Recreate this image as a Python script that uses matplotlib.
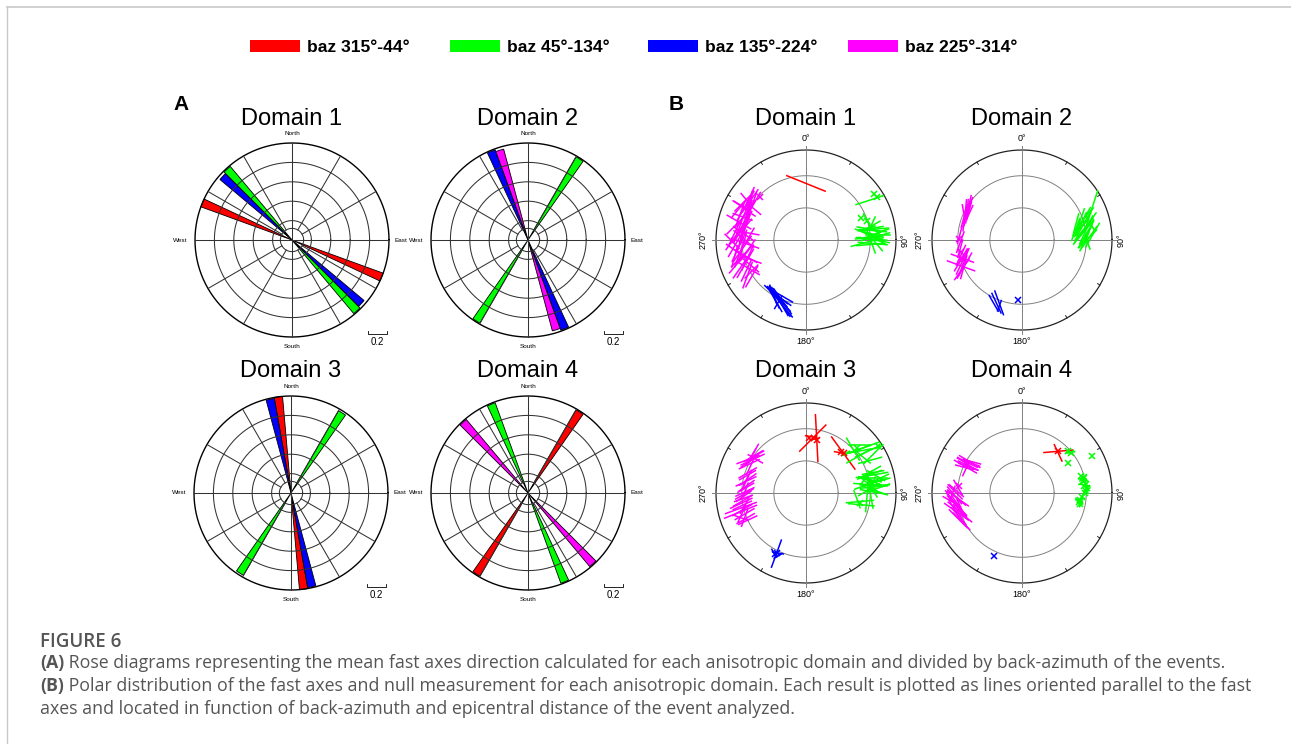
import numpy as np
import matplotlib.pyplot as plt
from matplotlib.patches import Wedge, Rectangle

W, H = 1291, 744

group_labels = ['baz 315°-44°', 'baz 45°-134°', 'baz 135°-224°', 'baz 225°-314°']
group_colors = ['#ff0000', '#00ff00', '#0000ff', '#ff00ff']
titles = ['Domain 1', 'Domain 2', 'Domain 3', 'Domain 4']

# ---- A: rose diagrams (5 deg bins, start azimuth), normalised length, baz group
rose1_bin = [110, 130, 135]
rose1_len = [1.0, 0.97, 0.99]
rose1_grp = [0, 2, 1]
rose2_bin = [30, 155, 160]
rose2_len = [0.99, 0.99, 0.97]
rose2_grp = [1, 2, 3]
rose3_bin = [170, 165, 30]
rose3_len = [1.0, 0.99, 0.98]
rose3_grp = [0, 2, 1]
rose4_bin = [30, 155, 135]
rose4_len = [0.99, 0.99, 0.99]
rose4_grp = [0, 1, 3]

# ---- B: splits, rows of (back-azimuth, epicentral distance, fast axis, delay time s)
d1_splits = [
    (0, 88, 112, 2.3),
    (58, 117, 72, 1.6), (80, 102, 80, 1.4), (82, 105, 95, 1.5), (84, 100, 105, 1.2),
    (85, 108, 70, 1.6), (87, 103, 115, 1.3), (88, 98, 85, 1.5), (90, 106, 100, 1.7),
    (83, 110, 130, 1.0), (78, 104, 60, 1.1), (86, 112, 90, 1.3), (91, 101, 160, 1.4),
    (79, 97, 75, 0.9), (89, 109, 120, 1.2), (93, 104, 95, 1.6), (76, 106, 25, 0.8),
    (72, 100, 150, 0.8), (92, 95, 75, 1.8), (81, 107, 85, 1.6), (84, 96, 110, 1.4),
    (87, 110, 75, 1.5), (89, 102, 95, 1.7), (92, 108, 140, 1.2), (80, 99, 100, 1.3),
    (86, 105, 65, 1.4), (94, 100, 85, 1.5),
    (296, 104, 25, 1.6), (300, 108, 30, 1.8), (303, 100, 20, 1.4), (298, 112, 120, 1.2),
    (305, 106, 35, 1.5), (293, 98, 15, 1.7), (301, 95, 130, 1.0), (307, 110, 25, 1.2),
    (295, 115, 40, 1.3), (290, 105, 110, 1.1), (299, 101, 10, 1.9), (304, 112, 140, 0.9),
    (291, 110, 20, 1.5), (294, 102, 35, 1.7), (297, 107, 125, 1.4), (302, 104, 15, 1.6),
    (306, 99, 30, 1.3), (300, 114, 45, 1.2), (288, 100, 25, 1.8), (285, 108, 120, 1.5),
    (283, 100, 30, 1.7), (279, 106, 20, 1.5), (276, 98, 125, 1.3), (273, 110, 35, 1.8),
    (270, 102, 15, 1.4), (267, 95, 110, 1.6), (281, 113, 45, 1.2), (274, 88, 30, 1.0),
    (269, 115, 135, 1.1), (265, 104, 25, 1.9), (277, 92, 100, 1.3), (282, 96, 20, 1.6),
    (278, 101, 40, 1.7), (275, 112, 25, 1.5), (271, 97, 130, 1.4), (268, 108, 30, 1.8),
    (264, 99, 15, 1.6), (261, 110, 125, 1.3),
    (262, 100, 35, 1.7), (258, 106, 20, 1.5), (255, 97, 120, 1.4), (252, 110, 40, 1.6),
    (249, 101, 30, 1.8), (246, 95, 130, 1.2), (243, 104, 25, 1.3), (240, 98, 45, 1.0),
    (257, 114, 15, 1.2), (250, 90, 110, 1.1), (260, 92, 35, 1.4), (236, 102, 30, 1.3),
    (256, 102, 45, 1.7), (253, 95, 25, 1.5), (248, 108, 35, 1.6), (244, 100, 120, 1.4),
    (239, 106, 20, 1.5),
    (205, 100, 140, 1.6), (203, 104, 150, 1.8), (207, 97, 130, 1.4), (200, 108, 145, 1.5),
    (209, 102, 155, 1.3), (202, 95, 120, 1.2), (198, 110, 140, 1.4), (211, 99, 160, 1.1),
    (204, 106, 30, 0.8), (206, 101, 135, 2.0), (201, 102, 145, 1.7), (206, 98, 140, 1.5),
    (208, 104, 150, 1.6), (203, 99, 125, 1.3),
]
d1_nulls = [(313, 97), (56, 127), (59, 129), (68, 92), (73, 99)]

d2_splits = [
    (67, 117, 18, 2.3), (72, 100, 30, 1.6), (75, 95, 25, 1.4), (78, 103, 35, 1.8),
    (80, 98, 40, 1.5), (82, 106, 20, 1.3), (85, 100, 30, 1.7), (88, 104, 45, 1.2),
    (73, 88, 15, 1.1), (77, 110, 150, 0.9), (84, 92, 35, 1.4), (90, 98, 25, 1.0),
    (70, 105, 40, 1.2), (86, 110, 30, 1.5), (79, 85, 20, 1.3), (92, 102, 160, 0.8),
    (74, 102, 30, 1.8), (76, 97, 35, 1.6), (81, 101, 25, 1.7), (83, 96, 40, 1.5),
    (87, 99, 30, 1.4), (89, 103, 35, 1.6), (71, 96, 20, 1.3), (78, 93, 45, 1.2),
    (293, 96, 10, 1.2), (296, 98, 5, 1.4), (299, 94, 15, 1.0), (302, 97, 20, 1.1),
    (295, 100, 170, 0.9), (290, 95, 8, 1.3), (298, 92, 25, 0.8), (304, 99, 12, 1.0),
    (291, 97, 15, 1.1), (297, 95, 10, 1.2), (300, 98, 5, 1.0),
    (275, 97, 15, 1.0), (268, 96, 20, 1.2), (262, 97, 15, 1.0),
    (256, 98, 25, 1.2), (252, 100, 30, 1.4), (249, 97, 20, 1.5), (247, 103, 110, 1.6),
    (254, 95, 35, 1.1), (245, 100, 15, 1.3), (250, 99, 25, 1.5), (253, 97, 110, 1.3),
    (246, 98, 30, 1.6), (244, 104, 35, 1.4),
    (202, 106, 155, 1.2), (200, 104, 160, 1.4), (204, 108, 150, 1.0), (199, 108, 20, 0.6),
]
d2_nulls = [(184, 93), (271, 98), (259, 96), (254, 99)]

d3_splits = [
    (11, 87, 177, 2.6), (7, 86, 45, 2.05), (5, 88, 100, 0.6), (9, 85, 80, 0.5),
    (43, 85, 144, 2.2), (40, 82, 100, 0.6), (45, 87, 60, 0.5),
    (60, 121, 45, 1.5), (50, 104, 70, 1.6), (53, 110, 80, 1.8), (47, 100, 150, 1.4),
    (56, 116, 65, 1.5), (48, 112, 90, 1.2), (58, 105, 130, 1.0), (63, 112, 75, 1.3),
    (52, 115, 70, 1.7), (55, 100, 60, 1.5),
    (72, 105, 60, 1.3), (75, 110, 80, 1.5), (78, 100, 100, 1.4), (80, 106, 120, 1.2),
    (82, 98, 70, 1.6), (84, 112, 90, 1.3), (86, 103, 150, 1.1), (76, 96, 40, 1.0),
    (88, 108, 110, 1.4), (79, 115, 65, 1.2), (90, 100, 170, 1.7), (83, 104, 20, 0.9),
    (74, 103, 70, 1.4), (77, 107, 90, 1.5), (79, 101, 110, 1.3), (81, 110, 75, 1.6),
    (83, 100, 130, 1.2), (85, 106, 85, 1.5), (87, 98, 60, 1.3), (89, 104, 100, 1.4),
    (73, 109, 80, 1.2), (76, 112, 120, 1.1), (82, 95, 95, 1.4), (86, 113, 70, 1.3),
    (99, 85, 85, 1.5), (102, 88, 95, 1.4), (97, 80, 160, 1.0), (94, 95, 5, 1.6),
    (308, 103, 30, 1.0), (305, 100, 60, 1.2), (302, 98, 65, 1.4), (299, 101, 55, 1.1),
    (296, 96, 25, 1.0), (304, 95, 120, 0.9), (300, 104, 70, 1.3), (306, 98, 60, 1.1),
    (303, 102, 30, 1.0), (297, 99, 65, 1.2),
    (289, 96, 60, 1.1), (285, 94, 30, 0.9), (281, 95, 65, 1.2), (277, 93, 55, 1.0),
    (273, 94, 20, 0.8), (269, 96, 60, 1.1), (265, 98, 70, 1.0), (287, 95, 60, 1.0),
    (283, 93, 55, 1.1), (279, 96, 25, 0.9), (275, 94, 60, 1.0), (271, 95, 65, 1.1),
    (267, 97, 55, 1.0), (263, 99, 60, 1.2),
    (261, 102, 65, 1.3), (257, 104, 70, 1.8), (254, 106, 68, 1.9), (251, 101, 60, 1.2),
    (248, 103, 20, 1.0), (245, 100, 65, 1.1), (258, 98, 30, 0.9), (249, 108, 110, 0.8),
    (259, 101, 65, 1.1), (255, 103, 60, 1.2), (252, 105, 25, 1.0), (247, 102, 60, 1.1),
    (206, 105, 20, 1.6), (205, 103, 100, 0.6), (208, 106, 150, 0.5), (204, 107, 60, 0.5),
]
d3_nulls = [(3, 86), (8, 87), (12, 85), (41, 84), (44, 86), (57, 134), (49, 106),
            (81, 104), (100, 86), (206, 104), (207, 106)]

d4_splits = [
    (41, 86, 85, 1.6), (42, 84, 155, 1.0),
    (76, 98, 45, 0.5), (78, 100, 120, 0.4), (80, 96, 60, 0.5), (85, 101, 150, 0.4),
    (88, 99, 30, 0.5), (95, 92, 40, 0.6), (98, 90, 130, 0.5), (100, 93, 20, 0.4),
    (50, 98, 80, 0.5), (77, 97, 90, 0.4), (83, 99, 100, 0.5), (87, 101, 60, 0.4),
    (96, 91, 80, 0.5),
    (300, 96, 110, 1.3), (297, 94, 115, 1.2), (295, 97, 120, 1.4), (302, 92, 105, 1.0),
    (293, 95, 25, 0.8), (298, 99, 125, 1.1), (299, 97, 115, 1.2), (296, 93, 110, 1.1),
    (301, 95, 120, 1.3), (294, 98, 105, 1.0),
    (272, 102, 130, 1.0), (268, 105, 140, 1.2), (265, 100, 125, 1.4), (262, 107, 145, 1.6),
    (259, 103, 135, 1.5), (256, 108, 150, 1.3), (253, 101, 130, 1.7), (250, 105, 140, 1.2),
    (263, 110, 120, 1.1), (257, 98, 155, 1.0), (270, 108, 20, 0.8), (245, 104, 135, 1.3),
    (275, 100, 150, 0.9), (271, 104, 135, 1.1), (266, 102, 130, 1.3), (261, 105, 140, 1.5),
    (258, 100, 145, 1.4), (254, 106, 125, 1.6), (251, 103, 150, 1.3), (248, 107, 135, 1.4),
    (264, 108, 140, 1.0),
]
d4_nulls = [(41, 86), (48, 97), (50.5, 99), (57, 85), (62, 123), (74, 96), (76, 99),
            (79, 97), (82, 100), (84, 97), (86, 102), (88, 100), (90, 98), (94, 93),
            (97, 91), (99, 89), (101, 92), (204, 107), (276, 98)]

caption_a = ' Rose diagrams representing the mean fast axes direction calculated for each anisotropic domain and divided by back-azimuth of the events.'
caption_b = ' Polar distribution of the fast axes and null measurement for each anisotropic domain. Each result is plotted as lines oriented parallel to the fast'
caption_c = 'axes and located in function of back-azimuth and epicentral distance of the event analyzed.'

DIST_MAX = 140.0
DT_SCALE = 28.0  # distance units per second of delay

plt.rcParams['font.family'] = ['Liberation Sans', 'DejaVu Sans']

fig = plt.figure(figsize=(W / 100, H / 100), dpi=100)
bg = fig.add_axes([0, 0, 1, 1])
bg.set_xlim(0, W)
bg.set_ylim(H, 0)
bg.axis('off')


def baz_group(b):
    b = b % 360
    if b >= 315 or b < 45:
        return 0
    if b < 135:
        return 1
    if b < 225:
        return 2
    return 3


def panel(cx, cy, rpx, lim):
    ax = fig.add_axes([(cx - lim * rpx) / W, (H - cy - lim * rpx) / H,
                       2 * lim * rpx / W, 2 * lim * rpx / H])
    ax.set_xlim(-lim, lim)
    ax.set_ylim(-lim, lim)
    ax.set_aspect('equal')
    ax.axis('off')
    return ax


th = np.linspace(0, 2 * np.pi, 361)


def draw_rose(ax, bins, lens, grps):
    for b, L, g in zip(bins, lens, grps):
        for off in (0, 180):
            a0 = b + off
            ax.add_patch(Wedge((0, 0), L, 90 - (a0 + 5), 90 - a0,
                               facecolor=group_colors[g], edgecolor='black',
                               lw=0.6, zorder=2))
    for rr in [0.12, 0.2, 0.4, 0.6, 0.8]:
        ax.plot(rr * np.cos(th), rr * np.sin(th), color='#333333', lw=0.75, zorder=3)
    ax.plot(np.cos(th), np.sin(th), color='black', lw=1.0, zorder=3)
    for a in range(0, 360, 30):
        r0 = 0 if a % 90 == 0 else 0.12
        s, c = np.sin(np.radians(a)), np.cos(np.radians(a))
        ax.plot([r0 * s, s], [r0 * c, c], color='#333333', lw=0.75, zorder=3)
    kw = dict(fontsize=4.6, ha='center', va='center')
    ax.text(0, 1.10, 'North', **kw)
    ax.text(0, -1.10, 'South', **kw)
    ax.text(-1.15, 0, 'West', **kw)
    ax.text(1.12, 0, 'East', **kw)
    # scale bar 0.2
    ax.plot([0.78, 0.78, 0.98, 0.98], [-0.94, -0.97, -0.97, -0.94], color='black', lw=0.6)
    ax.text(0.88, -1.05, '0.2', fontsize=7, ha='center', va='center')


def draw_polar(ax, rows, nulls):
    for d in (50, 100):
        rr = d / DIST_MAX
        ax.plot(rr * np.cos(th), rr * np.sin(th), color='#808080', lw=0.7, zorder=1)
    ax.plot(np.cos(th), np.sin(th), color='#222222', lw=0.9, zorder=1)
    ax.plot([0, 0], [-1.04, 1.04], color='#808080', lw=0.7, zorder=1)
    ax.plot([-1.04, 1.04], [0, 0], color='#808080', lw=0.7, zorder=1)
    for a in range(30, 360, 30):
        if a % 90 == 0:
            continue
        s, c = np.sin(np.radians(a)), np.cos(np.radians(a))
        ax.plot([0.97 * s, s], [0.97 * c, c], color='#222222', lw=0.7, zorder=1)
    for b, d, p, t in rows:
        r = d / DIST_MAX
        x0, y0 = r * np.sin(np.radians(b)), r * np.cos(np.radians(b))
        h = t * DT_SCALE / DIST_MAX / 2
        dx, dy = h * np.sin(np.radians(p)), h * np.cos(np.radians(p))
        ax.plot([x0 - dx, x0 + dx], [y0 - dy, y0 + dy],
                color=group_colors[baz_group(b)], lw=1.1, zorder=2)
    for b, d in nulls:
        r = d / DIST_MAX
        ax.plot(r * np.sin(np.radians(b)), r * np.cos(np.radians(b)), marker='x',
                ms=4.5, mew=1.1, color=group_colors[baz_group(b)], zorder=3)
    kw = dict(fontsize=6.5, ha='center', va='center')
    ax.text(0, 1.13, '0°', **kw)
    ax.text(0, -1.13, '180°', **kw)
    ax.text(-1.14, 0, '270°', rotation=90, **kw)
    ax.text(1.1, 0, '90°', rotation=90, **kw)


rose_centers = [(292, 240), (528, 240), (291, 493), (528, 493)]
polar_centers = [(806, 240), (1022, 240), (806, 493), (1022, 493)]
roses = [(rose1_bin, rose1_len, rose1_grp), (rose2_bin, rose2_len, rose2_grp),
         (rose3_bin, rose3_len, rose3_grp), (rose4_bin, rose4_len, rose4_grp)]
splits = [(d1_splits, d1_nulls), (d2_splits, d2_nulls),
          (d3_splits, d3_nulls), (d4_splits, d4_nulls)]

for i in range(4):
    cx, cy = rose_centers[i]
    ax = panel(cx, cy, 97, 1.3)
    draw_rose(ax, *roses[i])
    bg.text(cx, 125 if i < 2 else 377, titles[i], fontsize=17, ha='center', va='baseline')

    cx, cy = polar_centers[i]
    ax = panel(cx, cy, 90, 1.25)
    draw_polar(ax, *splits[i])
    bg.text(cx, 125 if i < 2 else 377, titles[i], fontsize=17, ha='center', va='baseline')

bg.text(181, 110, 'A', fontsize=15, fontweight='bold', ha='center', va='baseline')
bg.text(676, 110, 'B', fontsize=15, fontweight='bold', ha='center', va='baseline')

# legend
leg_x = [250, 450, 648, 848]
for x, lab, col in zip(leg_x, group_labels, group_colors):
    bg.add_patch(Rectangle((x, 40), 50, 12, facecolor=col, edgecolor='none'))
    bg.text(x + 57, 51.5, lab, fontsize=12.6, fontweight='bold', ha='left', va='baseline')

# frame lines
bg.plot([7, W], [7, 7], color='#c8c8c8', lw=1.2)
bg.plot([7, 7], [7, H], color='#c8c8c8', lw=1.0)

# caption
cap = dict(family=['Open Sans', 'DejaVu Sans'], color='#555555', va='baseline', ha='left')
bg.text(40, 647, 'FIGURE 6', fontsize=13.5, fontweight='semibold', **cap)
fig.canvas.draw()
rend = fig.canvas.get_renderer()
for y, pre, body in [(668, '(A)', caption_a), (691, '(B)', caption_b)]:
    t = bg.text(40, y, pre, fontsize=12.8, fontweight='bold', **cap)
    bb = t.get_window_extent(renderer=rend)
    x1 = bg.transData.inverted().transform((bb.x1, bb.y0))[0]
    bg.text(x1, y, body, fontsize=12.8, **cap)
bg.text(40, 714, caption_c, fontsize=12.8, **cap)

fig.savefig('out.png', dpi=100)
